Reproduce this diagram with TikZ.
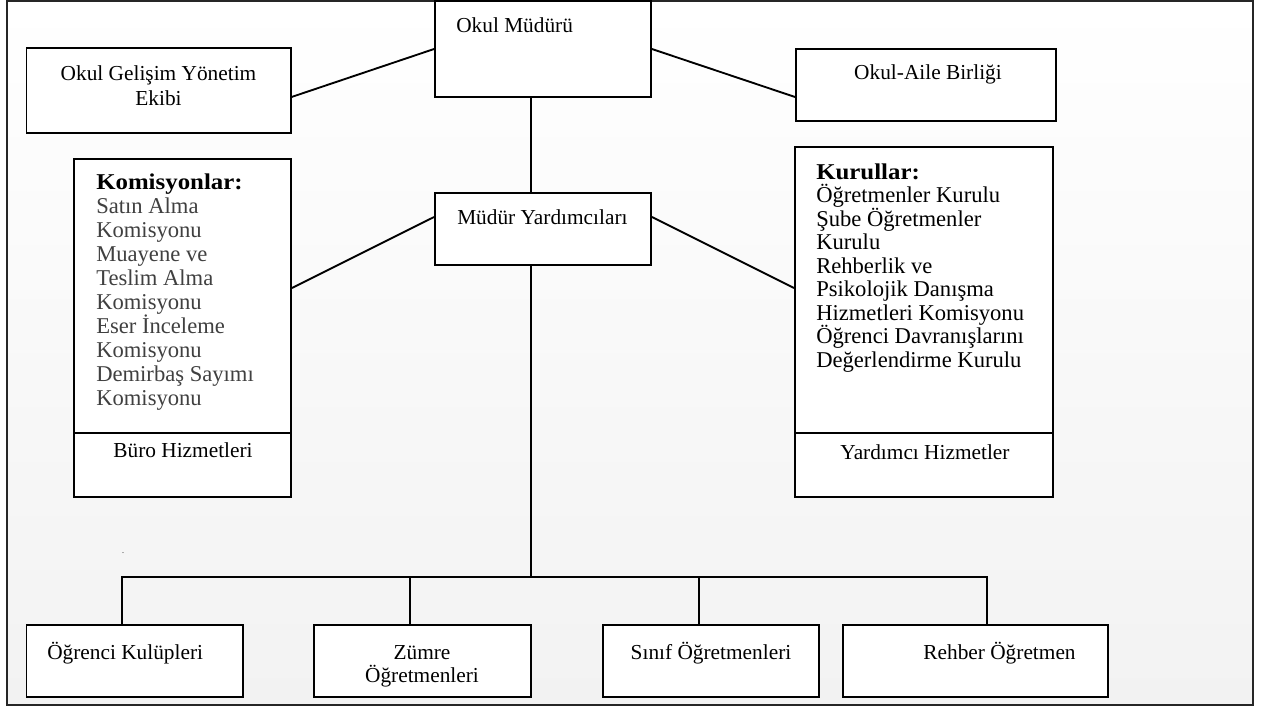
\documentclass[tikz,border=0pt]{standalone}
\usepackage{fontspec}
\setmainfont{Liberation Serif}
\usepackage{graphicx}
\usetikzlibrary{fit,calc}
\definecolor{itemgray}{HTML}{404040}
\definecolor{bgbottom}{HTML}{F2F2F2}
\begin{document}
\begin{tikzpicture}[x=0.75pt,y=-0.75pt,
  box/.style={draw=black, line width=1.4pt, fill=white, inner sep=0pt},
  conn/.style={line width=1.4pt},
  lab/.style={font=\fontsize{16}{19}\selectfont, inner sep=0pt},
  itm/.style={font=\fontsize{16.95}{20}\selectfont, inner sep=0pt, anchor=base west}]
\useasboundingbox (0,0) rectangle (1270,708);
\shade[top color=white, bottom color=bgbottom] (7,1) rectangle (1253,705);
\draw[line width=1.3pt, black!85] (7,1) rectangle (1253,705);

% boxes
\node[box, fit={(435,1) (651,97)}] (om) {};
\node[box, fit={(26.5,48) (290.6,133)}] (ogye) {};
\node[box, fit={(796,49) (1056,121)}] (oa) {};
\node[box, fit={(435,193) (651,265)}] (my) {};
\node[box, fit={(74,159) (291,497)}] (kom) {};
\node[box, fit={(795,147) (1053,497)}] (kur) {};
\node[box, fit={(26.5,625) (243,697)}] (ogr) {};
\node[box, fit={(314,625) (531,697)}] (zum) {};
\node[box, fit={(603,625) (819,697)}] (sin) {};
\node[box, fit={(843,625) (1108,697)}] (reh) {};

% dividers
\coordinate (kdiv) at (0,433);
\draw[conn] (kom.west |- kdiv) -- (kom.east |- kdiv);
\draw[conn] (kur.west |- kdiv) -- (kur.east |- kdiv);

% connector coordinates
\coordinate (ya) at (0,49);
\coordinate (yb) at (0,97);
\coordinate (yc) at (0,217);
\coordinate (yd) at (0,288);
\coordinate (vx) at (531,0);
\coordinate (bus) at (531,577);
\coordinate (d1) at (122.4,0);
\coordinate (d2) at (410,0);
\coordinate (d3) at (699,0);
\coordinate (d4) at (987,0);

\draw[conn] (ogye.east |- yb) -- (om.west |- ya);
\draw[conn] (om.east |- ya) -- (oa.west |- yb);
\draw[conn] (my.west |- yc) -- (kom.east |- yd);
\draw[conn] (my.east |- yc) -- (kur.west |- yd);
\draw[conn] (om.south -| vx) -- (my.north -| vx);
\draw[conn] (my.south -| vx) -- (bus);
\draw[conn] (ogr.north -| d1) -- (d1 |- bus) -- (d4 |- bus) -- (reh.north -| d4);
\draw[conn] (zum.north -| d2) -- (d2 |- bus);
\draw[conn] (sin.north -| d3) -- (d3 |- bus);

% labels
\node[lab, anchor=base west] (tom) at (456,32) {Okul Müdürü};
\node[lab, anchor=base] (togye1) at (158.5,80) {Okul Gelişim Yönetim};
\node[lab, anchor=base] (togye2) at (158.5,105) {Ekibi};
\node[lab, anchor=base] (toa) at (928,79) {Okul-Aile Birliği};
\node[lab, anchor=base west] (tmy) at (457,224.5) {Müdür Yardımcıları};
\node[lab, anchor=base] (tburo) at (183,457) {Büro Hizmetleri};
\node[lab, anchor=base] (tyard) at (925,459) {Yardımcı Hizmetler};
\node[lab, anchor=base west] (togr) at (47,659) {Öğrenci Kulüpleri};
\node[lab, anchor=base] (tzum1) at (422,659) {Zümre};
\node[lab, anchor=base] (tzum2) at (422,682) {Öğretmenleri};
\node[lab, anchor=base] (tsin) at (711,659) {Sınıf Öğretmenleri};
\node[lab, anchor=base] (treh) at (999.5,659) {Rehber Öğretmen};

% Komisyonlar list
\node[itm] (k0) at (96,189) {\textbf{\scalebox{1.1}[1]{Komisyonlar:}}};
\foreach \t [count=\i] in {Satın Alma, Komisyonu, Muayene ve, Teslim Alma, Komisyonu, Eser İnceleme, Komisyonu, Demirbaş Sayımı, Komisyonu}
  \node[itm, text=itemgray] (k\i) at (96, 189+24*\i) {\t};

% Kurullar list
\node[itm] (u0) at (816,179) {\textbf{\scalebox{1.1}[1]{Kurullar:}}};
\foreach \t [count=\i] in {Öğretmenler Kurulu, Şube Öğretmenler, Kurulu, Rehberlik ve, Psikolojik Danışma, Hizmetleri Komisyonu, Öğrenci Davranışlarını, Değerlendirme Kurulu}
  \node[itm] (u\i) at (816, 179+23.5*\i) {\t};

% stray dot
\node[inner sep=0pt, font=\fontsize{6}{6}\selectfont, anchor=base] (dot) at (123,553) {.};
\end{tikzpicture}
\end{document}
